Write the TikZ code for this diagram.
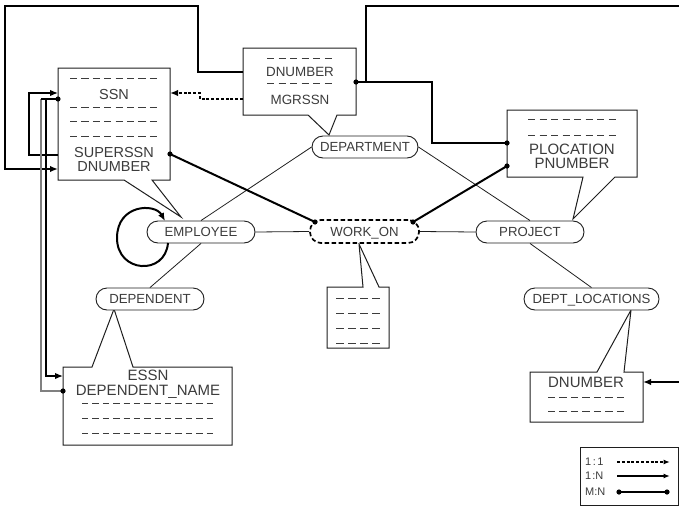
\documentclass[tikz,border=0pt]{standalone}
\usepackage{fontspec}
\setmainfont{Liberation Sans}
\usetikzlibrary{arrows.meta}
\definecolor{txt}{RGB}{60,60,60}
\definecolor{edge}{RGB}{30,30,30}
\newcommand\erdashrow[4]{%
  \pgfmathsetmacro\erdlen{(#2-#1)/(1.6*#4-0.6)}%
  \foreach \k in {1,...,#4}{%
    \draw[line width=0.9pt,txt] ({#1+(\k-1)*1.6*\erdlen},#3) -- ++(\erdlen,0);
  }%
}
\begin{document}
\begin{tikzpicture}[x=1pt,y=-1pt,
  lnthin/.style={line width=0.8pt,edge},
  lnmid/.style={line width=1.4pt,black},
  thk/.style={line width=2pt,black},
  dsh/.style={line width=1.8pt,black,dash pattern=on 3pt off 1.8pt},
  arr/.style={-{Latex[length=8pt,width=6.5pt]}},
  sarr/.style={-{Latex[length=6.5pt,width=5pt]}},
  boxln/.style={line width=1pt,edge,fill=white},
  oval/.style={draw=edge,line width=0.9pt,rectangle,rounded corners=11pt,
    minimum height=22pt,inner sep=0pt,text=txt,text height=9.45pt,text depth=0pt,
    font=\fontsize{13.2}{13.2}\selectfont,fill=white},
  bta/.style={inner sep=0pt,text depth=0pt,text=txt,text height=10.4pt,font=\fontsize{14.5}{14.5}\selectfont},
  btb/.style={inner sep=0pt,text depth=0pt,text=txt,text height=9.6pt,font=\fontsize{13.4}{13.4}\selectfont},
  btc/.style={inner sep=0pt,text depth=0pt,text=txt,text height=10.7pt,font=\fontsize{15}{15}\selectfont},
  btl/.style={inner sep=0pt,text depth=0pt,text=txt,text height=7.9pt,font=\fontsize{11}{11}\selectfont,anchor=west},
]
\useasboundingbox (0,0) rectangle (679,506);

% ---------- callout boxes ----------
\draw[boxln] (58,68) -- (170,68) -- (170,180) -- (152,180) -- (181,217) -- (124,180) -- (58,180) -- cycle;
\draw[boxln] (243,48) -- (356,48) -- (356,115) -- (337,115) -- (329,135) -- (308,115) -- (243,115) -- cycle;
\draw[boxln] (507,110) -- (637,110) -- (637,177) -- (615,177) -- (573,219) -- (583,177) -- (507,177) -- cycle;
\draw[boxln] (63,367) -- (92,367) -- (114,309) -- (133,367) -- (232,367) -- (232,445) -- (63,445) -- cycle;
\draw[boxln] (327,287) -- (363,287) -- (359,244) -- (379,287) -- (389,287) -- (389,348) -- (327,348) -- cycle;
\draw[boxln] (530,372) -- (597,372) -- (631,310) -- (624,372) -- (643,372) -- (643,422) -- (530,422) -- cycle;

% ---------- box contents ----------
\erdashrow{70}{157}{78}{8}
\node[bta] (tssn) at (114,94) {SSN};
\erdashrow{70}{157}{107}{8}
\erdashrow{70}{157}{121}{8}
\erdashrow{70}{157}{136}{8}
\node[bta] (tsup) at (114,152) {SUPERSSN};
\node[bta] (tedn) at (114,166) {DNUMBER};

\erdashrow{267}{332}{58}{6}
\node[btb] (tddn) at (300,72) {DNUMBER};
\erdashrow{267}{332}{83}{6}
\node[btb] (tmgr) at (300,100) {MGRSSN};

\erdashrow{528}{616}{119}{8}
\erdashrow{528}{616}{135}{8}
\node[btc] (tploc) at (572,149) {PLOCATION};
\node[btc] (tpnum) at (572,163.5) {PNUMBER};

\node[btc] (tessn) at (148,375.5) {ESSN};
\node[btc] (tdname) at (148,390) {DEPENDENT\_NAME};
\erdashrow{82}{213}{403}{13}
\erdashrow{82}{213}{418}{13}
\erdashrow{82}{213}{433}{13}

\erdashrow{336}{380}{298}{4}
\erdashrow{336}{380}{313}{4}
\erdashrow{336}{380}{328}{4}
\erdashrow{336}{380}{343}{4}

\node[btc] (tdldn) at (586,382) {DNUMBER};
\erdashrow{548}{624}{397}{7}
\erdashrow{548}{624}{411}{7}

% ---------- relationship ovals ----------
\node[oval,minimum width=106pt] (dept) at (365,147) {DEPARTMENT};
\node[oval,minimum width=108pt] (emp) at (201,232) {EMPLOYEE};
\node[oval,minimum width=109pt,minimum height=23pt,line width=1.7pt,dash pattern=on 4.5pt off 2.5pt,draw=black] (work) at (364.5,231.5) {WORK\_ON};
\node[oval,minimum width=108pt] (proj) at (530,232) {PROJECT};
\node[oval,minimum width=108pt] (depn) at (150,299) {DEPENDENT};
\node[oval,minimum width=135pt] (dloc) at (591.5,299) {DEPT\_LOCATIONS};

\draw[lnthin] (emp.east) -- (work.west);
\draw[lnthin] (work.east) -- (proj.west);
\draw[lnthin] (dept.west) -- (emp.north);
\draw[lnthin] (dept.east) -- (proj.north);
\draw[lnthin] (emp.south) -- (depn.north);
\draw[lnthin] (proj.south) -- (dloc.north);

% ---------- connection points ----------
\coordinate (ssnIn) at (58,93);
\coordinate (supOut) at (58,155);
\coordinate (ssnDot) at (58,99);
\coordinate (dnIn) at (58,169);
\coordinate (ssnR) at (170,93);
\coordinate (mgrOut) at (243,99);
\coordinate (deptDnL) at (243,72);
\coordinate (deptDot) at (356,82);
\coordinate (plocDot) at (507,143);
\coordinate (pnumDot) at (507,166);
\coordinate (supDot) at (170,154);
\coordinate (wL) at (315,222);
\coordinate (wR) at (413,222);
\coordinate (essnIn) at (63,376);
\coordinate (dnameDot) at (63,391);
\coordinate (dlIn) at (643,382);
\coordinate (rightTop) at (679,6);
\coordinate (rightMid) at (679,382);
\coordinate (loopS) at (168,243);
\coordinate (loopE) at (165,221);

% ---------- foreign key connectors ----------
\draw[thk,arr] (deptDnL) -- (198,72) -- (198,6) -- (5,6) -- (5,169) -- (dnIn);
\draw[lnmid,arr] (supOut) -- (29,155) -- (29,93) -- (ssnIn);
\draw[lnmid,gray] (41,99) -- (41,391) -- (dnameDot);
\draw[lnmid] (ssnDot) -- (41,99);
\draw[lnmid,arr] (46,99) -- (46,376) -- (essnIn);
\fill (ssnDot) circle (2.6);
\fill (dnameDot) circle (2.6);

\draw[dsh,arr] (mgrOut) -- (200,99) -- (200,93) -- (ssnR);

\draw[thk] (deptDot) -- (366,82) -- (366,6) -- (rightTop);
\draw[thk] (deptDot) -- (432,82) -- (432,143) -- (plocDot);
\draw[thk,arr] (rightMid) -- (dlIn);
\draw[thk] (supDot) -- (wL);
\draw[thk] (pnumDot) -- (wR);
\foreach \p in {deptDot,plocDot,pnumDot,supDot,wL,wR} \fill (\p) circle (2.6);

\draw[thk,arr] (loopS) .. controls (165,276) and (117,273) .. (117,238) .. controls (117,204) and (155,203) .. (loopE);

% ---------- legend ----------
\draw[line width=1pt,edge] (580,447) rectangle (678,505);
\node[btl] (l11) at (585,462) {1\hspace{1.5pt}:\hspace{1.5pt}1};
\node[btl] (l1n) at (585,476) {1\hspace{1pt}:N};
\node[btl] (lmn) at (585,492) {M:N};
\coordinate (la1) at (617,462); \coordinate (lb1) at (670,462);
\coordinate (la2) at (617,476); \coordinate (lb2) at (670,476);
\coordinate (la3) at (619,492); \coordinate (lb3) at (667,492);
\draw[line width=1.5pt,dash pattern=on 3pt off 1.8pt,sarr] (la1) -- (lb1);
\draw[line width=1.5pt,sarr] (la2) -- (lb2);
\draw[line width=1.5pt] (la3) -- (lb3);
\fill (la3) circle (2.6);
\fill (lb3) circle (2.6);
\end{tikzpicture}
\end{document}
